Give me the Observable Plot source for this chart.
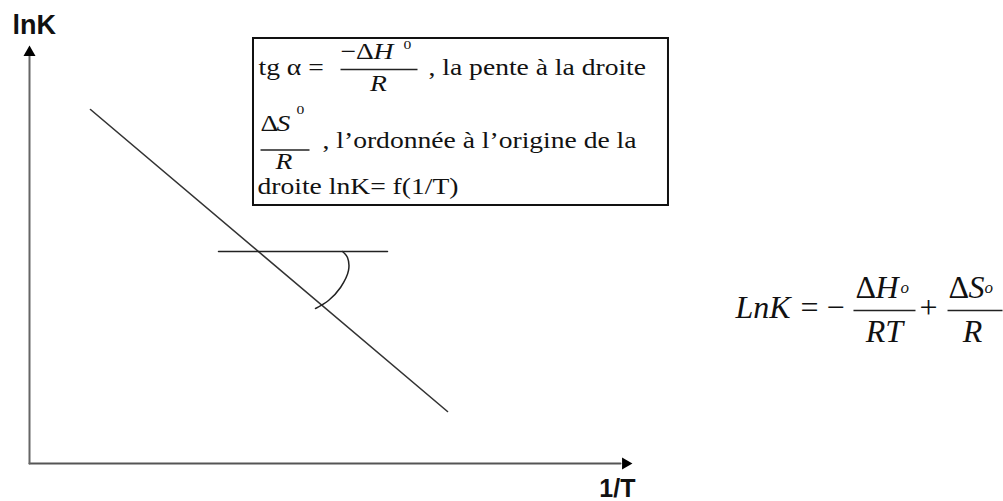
<!DOCTYPE html>
<html><head><meta charset="utf-8">
<script src="https://cdn.jsdelivr.net/npm/d3@7"></script>
<script src="https://cdn.jsdelivr.net/npm/@observablehq/plot@0.6"></script>
<style>html,body{margin:0;padding:0;background:#fff;} svg{display:block;}</style>
</head><body><div id="chart"></div>
<script>
// Schematic units: 1/T on x (0..10), lnK on y (0..10)
const xAxisLine = [{x: 0, y: 0}, {x: 9.834, y: 0}];
const yAxisLine = [{x: 0, y: 0}, {x: 0, y: 9.831}];
const xArrowTip = [{x: 9.917, y: 0}];
const yArrowTip = [{x: 0, y: 9.904}];
const yLabel = [{t: "lnK", x: -0.283, y: 10.361}];
const xLabel = [{t: "1/T", x: 10.083, y: -0.819}];

// straight line lnK = f(1/T)
const straightLine = [{x: 1.015, y: 8.53}, {x: 6.955, y: 1.253}];
// horizontal reference line and angle arc
const horizontalLine = [{x: 3.145, y: 5.108}, {x: 5.957, y: 5.108}];
const anglePoints = [
  {x: 5.208, y: 5.108}, {x: 5.291, y: 4.964}, {x: 5.308, y: 4.651},
  {x: 5.175, y: 4.241}, {x: 4.975, y: 3.928}, {x: 4.759, y: 3.735}
];

// annotation box
const box = [{x1: 3.727, x2: 10.632, y1: 6.217, y2: 10.241}];
const boxRegular = [
  {t: "tg α =", x: 3.81, y: 9.373},
  {t: "−Δ", x: 5.175, y: 9.735},
  {t: ", la pente à la droite", x: 6.639, y: 9.373},
  {t: "Δ", x: 3.844, y: 8.024},
  {t: ", l’ordonnée à l’origine de la", x: 4.875, y: 7.614},
  {t: "droite lnK= f(1/T)", x: 3.794, y: 6.506}
];
const boxItalic = [
  {t: "H", x: 5.724, y: 9.735},
  {t: "S", x: 4.11, y: 8.024}
];
const boxItalicCentered = [
  {t: "R", x: 5.807, y: 8.964},
  {t: "R", x: 4.235, y: 7.108}
];
const boxSup = [
  {t: "0", x: 6.223, y: 9.976},
  {t: "0", x: 4.443, y: 8.41}
];
const boxBars = [
  {x1: 5.175, x2: 6.456, y: 9.494},
  {x1: 3.844, x2: 4.659, y: 7.554}
];

// Van 't Hoff equation on the right
const eqRegular = [
  {t: "=", x: 12.829, y: 3.494},
  {t: "−", x: 13.261, y: 3.494},
  {t: "Δ", x: 13.744, y: 4.0},
  {t: "+", x: 14.809, y: 3.494},
  {t: "Δ", x: 15.291, y: 4.0}
];
const eqItalic = [
  {t: "LnK", x: 11.747, y: 3.494},
  {t: "H", x: 14.077, y: 4.0},
  {t: "S", x: 15.624, y: 4.0}
];
const eqItalicCentered = [
  {t: "RT", x: 14.226, y: 2.916},
  {t: "R", x: 15.691, y: 2.916}
];
const eqSup = [
  {t: "o", x: 14.493, y: 4.12},
  {t: "o", x: 15.89, y: 4.12}
];
const eqBars = [
  {x1: 13.71, x2: 14.742, y: 3.687},
  {x1: 15.275, x2: 16.19, y: 3.687}
];

const serif = "'Liberation Serif', 'Times New Roman', serif";
const sans = "'Liberation Sans', Arial, sans-serif";
const ink = "#111111";
const boxInk = "#121212"; // box text colour, also used to find it for the horizontal stretch

const plot = Plot.plot({
  width: 1003,
  height: 501,
  margin: 0,
  x: {domain: [0, 10], range: [29, 630], axis: null},
  y: {domain: [0, 10], range: [463, 48], axis: null},
  style: {background: "#fff"},
  marks: [
    Plot.line(xAxisLine, {x: "x", y: "y", stroke: "#555", strokeWidth: 2}),
    Plot.line(yAxisLine, {x: "x", y: "y", stroke: "#666", strokeWidth: 2}),
    Plot.dot(xArrowTip, {x: "x", y: "y", symbol: "triangle", r: 4.46, rotate: 90, fill: "#000", stroke: "none"}),
    Plot.dot(yArrowTip, {x: "x", y: "y", symbol: "triangle", r: 4.46, fill: "#000", stroke: "none"}),
    Plot.text(yLabel, {x: "x", y: "y", text: "t", textAnchor: "start", lineAnchor: "bottom", fontFamily: sans, fontWeight: "bold", fontSize: 27, fill: ink}),
    Plot.text(xLabel, {x: "x", y: "y", text: "t", textAnchor: "end", lineAnchor: "bottom", fontFamily: sans, fontWeight: "bold", fontSize: 25, fill: ink}),

    Plot.line(straightLine, {x: "x", y: "y", stroke: "#333", strokeWidth: 1.6}),
    Plot.line(horizontalLine, {x: "x", y: "y", stroke: "#222", strokeWidth: 1.5}),
    Plot.line(anglePoints, {x: "x", y: "y", curve: "catmull-rom", stroke: "#222", strokeWidth: 1.5}),

    Plot.rect(box, {x1: "x1", x2: "x2", y1: "y1", y2: "y2", fill: "none", stroke: "#111", strokeWidth: 2}),
    Plot.link(boxBars, {x1: "x1", x2: "x2", y1: "y", y2: "y", stroke: "#222", strokeWidth: 1.4}),
    Plot.text(boxRegular, {x: "x", y: "y", text: "t", textAnchor: "start", lineAnchor: "bottom", fontFamily: serif, fontSize: 23, fill: boxInk}),
    Plot.text(boxItalic, {x: "x", y: "y", text: "t", textAnchor: "start", lineAnchor: "bottom", fontFamily: serif, fontStyle: "italic", fontSize: 23, fill: boxInk}),
    Plot.text(boxItalicCentered, {x: "x", y: "y", text: "t", textAnchor: "middle", lineAnchor: "bottom", fontFamily: serif, fontStyle: "italic", fontSize: 23, fill: boxInk}),
    Plot.text(boxSup, {x: "x", y: "y", text: "t", textAnchor: "start", lineAnchor: "bottom", fontFamily: serif, fontSize: 13, fill: boxInk}),

    Plot.link(eqBars, {x1: "x1", x2: "x2", y1: "y", y2: "y", stroke: "#222", strokeWidth: 1.5}),
    Plot.text(eqRegular, {x: "x", y: "y", text: "t", textAnchor: "start", lineAnchor: "bottom", fontFamily: serif, fontSize: 32, fill: ink}),
    Plot.text(eqItalic, {x: "x", y: "y", text: "t", textAnchor: "start", lineAnchor: "bottom", fontFamily: serif, fontStyle: "italic", fontSize: 32, fill: ink}),
    Plot.text(eqItalicCentered, {x: "x", y: "y", text: "t", textAnchor: "middle", lineAnchor: "bottom", fontFamily: serif, fontStyle: "italic", fontSize: 32, fill: ink}),
    Plot.text(eqSup, {x: "x", y: "y", text: "t", textAnchor: "start", lineAnchor: "bottom", fontFamily: serif, fontStyle: "italic", fontSize: 17, fill: ink})
  ]
});

// the box text in the reference is horizontally stretched
d3.select(plot).selectAll("g").filter(function () {
  return this.getAttribute("fill") === boxInk;
}).selectAll("text").each(function () {
  const t = this.getAttribute("transform") || "";
  const x = +this.getAttribute("x") || 0;
  const y = +this.getAttribute("y") || 0;
  this.removeAttribute("x");
  this.removeAttribute("y");
  this.setAttribute("transform", `${t} translate(${x},${y}) scale(1.2,1)`);
});

document.getElementById("chart").appendChild(plot);
</script>
</body></html>
